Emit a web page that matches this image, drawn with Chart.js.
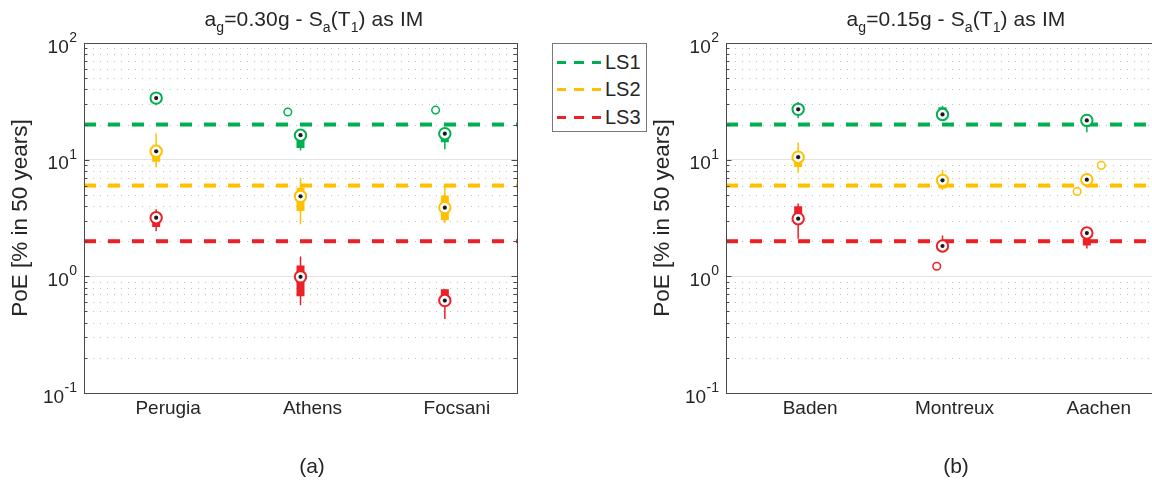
<!DOCTYPE html>
<html>
<head>
<meta charset="utf-8">
<script src="https://cdn.jsdelivr.net/npm/chart.js@4.4.1/dist/chart.umd.min.js"></script>
<style>
  html, body { margin:0; padding:0; background:#fff; }
  body { width:1152px; height:488px; overflow:hidden; position:relative; font-family:'Liberation Sans', Arial, sans-serif; color:#262626; }
  canvas { position:absolute; top:0; }
  .ttl { position:absolute; font-size:21px; line-height:24px; text-align:center; white-space:nowrap; letter-spacing:0.1px; }
  .ttl sub { font-size:14px; vertical-align:-6px; line-height:0; }
  .cap { position:absolute; font-size:21px; line-height:24px; text-align:center; width:60px; }
  #legend { position:absolute; left:552px; top:43px; width:95px; height:89px; box-sizing:border-box; border:1px solid #7a7a7a; background:#fff; z-index:5; }
  .lg-line { position:absolute; left:4px; width:44px; height:3px; }
  .lg-text { position:absolute; left:52px; font-size:20px; line-height:22px; }
</style>
</head>
<body>
<canvas id="chartA" width="540" height="488" style="left:0px"></canvas>
<canvas id="chartB" width="540" height="488" style="left:642px"></canvas>
<div class="ttl" style="left:100px;width:428px;top:7px">a<sub>g</sub>=0.30g - S<sub>a</sub>(T<sub>1</sub>) as IM</div>
<div class="ttl" style="left:742px;width:428px;top:7px">a<sub>g</sub>=0.15g - S<sub>a</sub>(T<sub>1</sub>) as IM</div>
<div class="cap" style="left:282px;top:454px">(a)</div>
<div class="cap" style="left:926px;top:454px">(b)</div>
<div id="legend"></div>
<script>
// ---------------- DATA ----------------
const categoriesA = ['Perugia', 'Athens', 'Focsani'];
const categoriesB = ['Baden', 'Montreux', 'Aachen'];
const limitStates = ['LS1', 'LS2', 'LS3'];
const limitValues = [20, 6, 2];
const yTickValues = [0.1, 1, 10, 100];
const yTickExponents = ['-1', '0', '1', '2'];

// Panel (a): a_g = 0.30g
const medianA_LS1 = [33.7, 16.2, 16.7];
const medianA_LS2 = [11.8, 4.85, 3.88];
const medianA_LS3 = [3.18, 0.99, 0.62];
const boxA_LS1 = [[31.5, 35.0], [12.6, 16.0], [14.1, 16.5]];
const boxA_LS2 = [[9.6, 11.5], [3.63, 5.75], [3.02, 4.94]];
const boxA_LS3 = [[2.65, 3.2], [0.674, 1.24], [0.665, 0.775]];
const whiskerA_LS1 = [[29.2, 36.0], [12.0, 16.5], [12.3, 17.0]];
const whiskerA_LS2 = [[8.6, 16.8], [2.79, 7.0], [2.86, 5.9]];
const whiskerA_LS3 = [[2.44, 3.75], [0.564, 1.48], [0.43, 0.78]];
const outliersA = [[1.912, 25.6, 0], [2.936, 26.6, 0]]; // [x, value, LS index]

// Panel (b): a_g = 0.15g
const medianB_LS1 = [27.0, 24.4, 21.7];
const medianB_LS2 = [10.5, 6.65, 6.74];
const medianB_LS3 = [3.12, 1.82, 2.35];
const boxB_LS1 = [[25.0, 29.0], [24.4, 28.2], [19.5, 21.7]];
const boxB_LS2 = [[8.64, 10.0], [5.66, 6.3], [6.0, 6.6]];
const boxB_LS3 = [[3.12, 3.98], [1.82, 2.0], [1.84, 2.1]];
const whiskerB_LS1 = [[22.7, 31.2], [23.5, 29.0], [17.2, 22.5]];
const whiskerB_LS2 = [[7.68, 14.0], [5.5, 8.2], [5.9, 7.0]];
const whiskerB_LS3 = [[2.1, 4.2], [1.82, 2.24], [1.73, 2.35]];
const outliersB = [[1.96, 1.22, 2], [3.10, 8.94, 1], [2.933, 5.33, 1]];

// ---------------- STYLE ----------------
const lsColors = ['#00b050', '#ffc000', '#ec2027'];
const textColor = '#262626';
const axisColor = '#4a4a4a';
Chart.defaults.font.family = "'Liberation Sans', Arial, sans-serif";
Chart.defaults.color = textColor;

// legend (HTML)
const legendEl = document.getElementById('legend');
const legendTops = [18, 45, 73];
limitStates.forEach((name, i) => {
  const ln = document.createElement('div');
  ln.className = 'lg-line';
  ln.style.top = (legendTops[i] - 1) + 'px';
  ln.style.background = `repeating-linear-gradient(to right, ${lsColors[i]} 0px, ${lsColors[i]} 9.5px, transparent 9.5px, transparent 17.5px)`;
  legendEl.appendChild(ln);
  const tx = document.createElement('div');
  tx.className = 'lg-text';
  tx.style.top = (legendTops[i] - 11) + 'px';
  tx.textContent = name;
  legendEl.appendChild(tx);
});

// minor log ticks (axis configuration)
const yMinor = [];
[0.1, 1, 10].forEach(d => { for (let k = 2; k <= 9; k++) yMinor.push(k * d); });

const framePlugin = {
  id: 'frameGrid',
  beforeDatasetsDraw(chart) {
    const { ctx, chartArea: a, scales: { y } } = chart;
    ctx.save();
    ctx.strokeStyle = '#c0c0c0';
    ctx.lineWidth = 1;
    ctx.setLineDash([1, 6]);
    yMinor.forEach(v => {
      const py = Math.round(y.getPixelForValue(v)) + 0.5;
      ctx.beginPath(); ctx.moveTo(a.left + 2, py); ctx.lineTo(a.right, py); ctx.stroke();
    });
    ctx.restore();
  },
  afterDraw(chart) {
    const { ctx, chartArea: a, scales: { y } } = chart;
    ctx.save();
    ctx.strokeStyle = axisColor;
    ctx.lineWidth = 1;
    const tick = (v, len) => {
      const py = Math.round(y.getPixelForValue(v)) + 0.5;
      ctx.beginPath();
      ctx.moveTo(a.left, py); ctx.lineTo(a.left + len, py);
      ctx.moveTo(a.right, py); ctx.lineTo(a.right - len, py);
      ctx.stroke();
    };
    yMinor.forEach(v => tick(v, 3.5));
    yTickValues.forEach(v => tick(v, 5.5));
    ctx.strokeRect(Math.round(a.left) + 0.5, Math.round(a.top) + 0.5, Math.round(a.right - a.left), Math.round(a.bottom - a.top));
    ctx.fillStyle = textColor;
    ctx.textAlign = 'right';
    ctx.textBaseline = 'middle';
    yTickValues.forEach((v, i) => {
      const py = y.getPixelForValue(v);
      const xr = a.left - 7;
      ctx.font = "14px 'Liberation Sans', Arial, sans-serif";
      const ew = ctx.measureText(yTickExponents[i]).width;
      ctx.fillText(yTickExponents[i], xr, py - 5);
      ctx.font = "19px 'Liberation Sans', Arial, sans-serif";
      ctx.fillText('10', xr - ew - 0.5, py + 4.5);
    });
    ctx.restore();
  }
};

function segments(pairs) {
  const pts = [];
  pairs.forEach((p, i) => {
    pts.push({ x: i + 1, y: p[0] }, { x: i + 1, y: p[1] }, { x: i + 1, y: null });
  });
  return pts;
}

function buildDatasets(medians, boxes, whiskers, outliers) {
  const ds = [];
  limitValues.forEach((v, k) => ds.push({
    type: 'line', data: [{ x: 0.5, y: v }, { x: 3.5, y: v }],
    borderColor: lsColors[k], borderWidth: 4, borderDash: [12, 12], borderCapStyle: 'butt',
    pointRadius: 0, order: 10
  }));
  whiskers.forEach((w, k) => ds.push({
    type: 'line', data: segments(w), borderColor: lsColors[k], borderWidth: 1.5,
    pointRadius: 0, spanGaps: false, order: 8
  }));
  boxes.forEach((b, k) => ds.push({
    type: 'line', data: segments(b), borderColor: lsColors[k], borderWidth: 8, borderCapStyle: 'butt',
    pointRadius: 0, spanGaps: false, order: 7
  }));
  medians.forEach((m, k) => ds.push({
    type: 'scatter', data: m.map((v, i) => ({ x: i + 1, y: v })),
    pointRadius: 5.7, pointBorderWidth: 2, pointBackgroundColor: '#ffffff', pointBorderColor: lsColors[k],
    pointHoverRadius: 5.7, order: 5
  }));
  medians.forEach((m) => ds.push({
    type: 'scatter', data: m.map((v, i) => ({ x: i + 1, y: v })),
    pointRadius: 2.1, pointBorderWidth: 0, pointBackgroundColor: '#1a1a1a', order: 4
  }));
  outliers.forEach(o => ds.push({
    type: 'scatter', data: [{ x: o[0], y: o[1] }],
    pointRadius: 3.8, pointBorderWidth: 1.5, pointBackgroundColor: '#ffffff', pointBorderColor: lsColors[o[2]],
    order: 3
  }));
  return ds;
}

function makeChart(id, categories, datasets) {
  return new Chart(document.getElementById(id), {
    data: { datasets },
    plugins: [framePlugin],
    options: {
      responsive: false, animation: false, devicePixelRatio: 1,
      events: [],
      layout: { padding: { left: 0, top: 43, right: 23, bottom: 0 } },
      plugins: { legend: { display: false }, tooltip: { enabled: false } },
      scales: {
        x: {
          type: 'linear', min: 0.5, max: 3.5,
          afterBuildTicks: s => { s.ticks = categories.map((c, i) => ({ value: i + 1 })); },
          ticks: { callback: v => categories[Math.round(v) - 1], font: { size: 19 }, color: textColor,
                   padding: 4, labelOffset: 12, maxRotation: 0, autoSkip: false },
          grid: { display: false, drawTicks: false },
          border: { display: false },
          afterFit: s => { s.height = 95; }
        },
        y: {
          type: 'logarithmic', min: 0.1, max: 100,
          afterBuildTicks: s => { s.ticks = yTickValues.map(v => ({ value: v })); },
          ticks: { display: false },
          grid: { color: '#e3e3e3', drawTicks: false, lineWidth: 1 },
          border: { display: false },
          title: { display: true, text: 'PoE [% in 50 years]', font: { size: 22.5 }, color: textColor,
                   padding: { top: 7, bottom: 0 } },
          afterFit: s => { s.width = 84; }
        }
      }
    }
  });
}

makeChart('chartA', categoriesA, buildDatasets(
  [medianA_LS1, medianA_LS2, medianA_LS3],
  [boxA_LS1, boxA_LS2, boxA_LS3],
  [whiskerA_LS1, whiskerA_LS2, whiskerA_LS3],
  outliersA));
makeChart('chartB', categoriesB, buildDatasets(
  [medianB_LS1, medianB_LS2, medianB_LS3],
  [boxB_LS1, boxB_LS2, boxB_LS3],
  [whiskerB_LS1, whiskerB_LS2, whiskerB_LS3],
  outliersB));
</script>
</body>
</html>
